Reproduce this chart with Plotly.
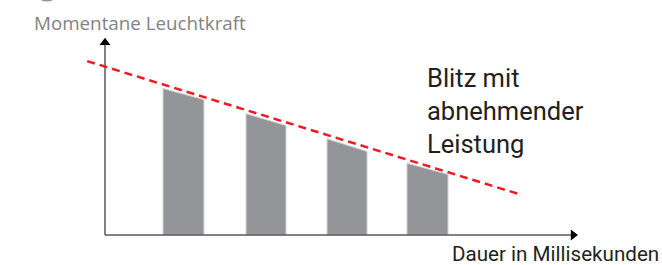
import plotly.graph_objects as go

# ---- data ----
flash_start = [0.716, 1.741, 2.741, 3.728]     # time units
flash_end = [1.222, 2.235, 3.235, 4.235]
intensity_start = [99.0, 82.0, 65.0, 48.5]
intensity_end = [91.5, 74.0, 56.5, 41.0]
trend_x = [-0.22, 5.15]
trend_y = [117.5, 27.0]
x_axis_end = 5.78
y_axis_end = 130.0

y_label = "Momentane Leuchtkraft"
x_label = "Dauer in Millisekunden"
note = "Blitz mit<br>abnehmender<br>Leistung"

W, H = 662, 265
ox, oy = 105, 235          # pixel origin
sx, sy = 81.0, 1.48        # px per unit

fig = go.Figure()

# bars (trapezoids)
bx, by = [], []
for s, e, a, b in zip(flash_start, flash_end, intensity_start, intensity_end):
    bx += [s, s, e, e, s, None]
    by += [0, a, b, 0, 0, None]
fig.add_trace(go.Scatter(x=bx, y=by, mode="lines", fill="toself",
                         fillcolor="#939598", line=dict(color="#d4d4d6", width=1),
                         hoverinfo="skip"))

# axes lines
fig.add_trace(go.Scatter(x=[0, x_axis_end, None, 0, 0], y=[0, 0, None, 0, y_axis_end],
                         mode="lines", line=dict(color="#58595b", width=1.5),
                         hoverinfo="skip"))
fig.add_trace(go.Scatter(x=[0], y=[y_axis_end], mode="markers",
                         marker=dict(symbol="triangle-up", size=9.5, color="#000000"),
                         hoverinfo="skip"))
fig.add_trace(go.Scatter(x=[x_axis_end], y=[0], mode="markers",
                         marker=dict(symbol="triangle-right", size=9.5, color="#000000"),
                         hoverinfo="skip"))

# trend line
fig.add_trace(go.Scatter(x=trend_x, y=trend_y, mode="lines",
                         line=dict(color="#ed1c24", width=2.5, dash="8px,5px"),
                         hoverinfo="skip"))

def px(x):
    return x / W

def py(y):
    return 1 - y / H

annotations = [
    dict(text=y_label, x=px(32), y=py(23), xref="paper", yref="paper",
         xanchor="left", yanchor="middle", showarrow=False,
         font=dict(family="Open Sans", size=18.8, color="#808285")),
    dict(text=note, x=px(425), y=py(61), xref="paper", yref="paper",
         xanchor="left", yanchor="top", align="left", showarrow=False,
         font=dict(family="Roboto", size=25.5, color="#231f20")),
    dict(text=x_label, x=px(450), y=py(254), xref="paper", yref="paper",
         xanchor="left", yanchor="middle", showarrow=False,
         font=dict(family="Roboto", size=20.6, color="#231f20")),
]

fig.update_layout(
    width=W, height=H,
    margin=dict(l=0, r=0, t=0, b=0),
    paper_bgcolor="white", plot_bgcolor="white",
    showlegend=False,
    xaxis=dict(range=[-ox / sx, (W - ox) / sx], visible=False, fixedrange=True),
    yaxis=dict(range=[-(H - oy) / sy, oy / sy], visible=False, fixedrange=True),
    annotations=annotations,
    shapes=[dict(type="circle", xref="paper", yref="paper",
                 x0=px(35), x1=px(59), y0=py(-24), y1=py(0),
                 line=dict(color="#939598", width=3))],
)

fig.write_html("out.html", config={"displayModeBar": False},
               post_script="document.body.style.margin='0';document.body.style.overflow='hidden';")
